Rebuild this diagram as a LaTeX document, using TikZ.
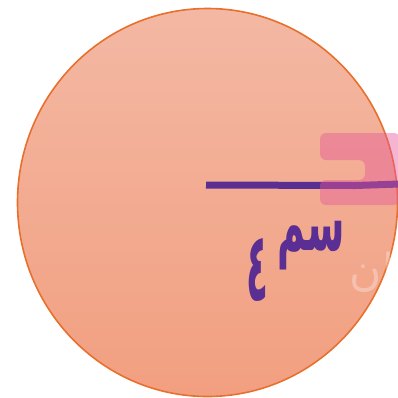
\documentclass[tikz,border=0pt]{standalone}
\usepackage{graphicx}
\usepackage{fontspec}
\newfontfamily\arabicfont[Script=Arabic]{DejaVu Sans}
\TeXXeTstate=1
\definecolor{rimorange}{HTML}{E8702E}
\definecolor{topfill}{HTML}{F3B8A3}
\definecolor{botfill}{HTML}{F29F80}
\definecolor{penpurple}{HTML}{5A2E92}
\definecolor{markpink}{HTML}{E45A98}
\tikzset{
  disc/.style={draw=rimorange, line width=1.6pt, top color=topfill, bottom color=botfill},
  pen/.style={draw=penpurple, line width=7pt},
  handtext/.style={text=penpurple, inner sep=0pt},
}
\begin{document}
\begin{tikzpicture}[x=1pt,y=-1pt]
\useasboundingbox (0,0) rectangle (398,397);
\begin{scope}
\clip (0,0) rectangle (398,397);
\draw[disc] (207.5,202.5) ellipse [x radius=190, y radius=194];
\coordinate (c) at (206,185);
\coordinate (e) at (400,184);
\draw[pen] (c) -- (355,185.5) -- (e);
\fill[markpink, opacity=0.45, rounded corners=6pt]
  (320,133) -- (400,133) -- (400,205) -- (320,205) -- (320,180) -- (365,180) -- (365,160) -- (320,160) -- cycle;
\node[text=white, opacity=0.3, font=\arabicfont\fontsize{44}{44}\selectfont, inner sep=0pt] (faint) at (372,272) {\beginR ان\endR};
\node[handtext, font=\arabicfont\bfseries\fontsize{40}{40}\selectfont] (unit) at (311,246) {\scalebox{0.95}[2.0]{\beginR سم\endR}};
\node[handtext, font=\arabicfont\bfseries\fontsize{60}{60}\selectfont] (num) at (257,270) {\scalebox{0.6}[1.6]{\beginR ٤\endR}};
\end{scope}
\end{tikzpicture}
\end{document}
